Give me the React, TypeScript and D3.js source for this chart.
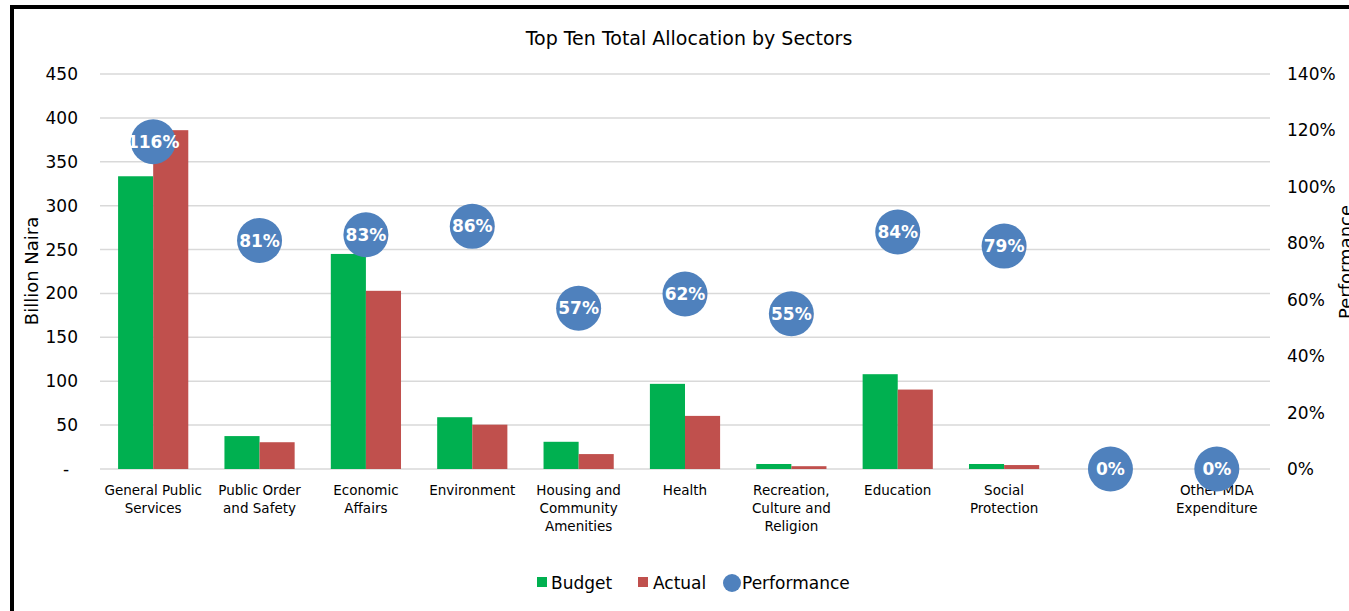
import React from "react";
import * as d3 from "d3";

const categories = [
  "General Public\nServices",
  "Public Order\nand Safety",
  "Economic\nAffairs",
  "Environment",
  "Housing and\nCommunity\nAmenities",
  "Health",
  "Recreation,\nCulture and\nReligion",
  "Education",
  "Social\nProtection",
  "",
  "Other MDA\nExpenditure",
];
const budget = [333.5, 37.5, 245, 59, 31, 97, 5.7, 108, 5.7, 0, 0];
const actual = [386, 30.5, 203, 50.5, 17, 60.5, 3.2, 90.5, 4.5, 0, 0];
const performance = [116, 81, 83, 86, 57, 62, 55, 84, 79, 0, 0];
const leftTicks = [0, 50, 100, 150, 200, 250, 300, 350, 400, 450];
const rightTicks = [0, 20, 40, 60, 80, 100, 120, 140];

const W = 1349;
const H = 611;
const FONT = "'DejaVu Sans', Verdana, sans-serif";

export default function App() {
  const plotL = 100, plotR = 1270, plotT = 74, plotB = 469;
  const x = d3.scaleBand<number>().domain(d3.range(categories.length)).range([plotL, plotR]).paddingInner(0).paddingOuter(0);
  const y = d3.scaleLinear().domain([0, 450]).range([plotB, plotT]);
  const yR = d3.scaleLinear().domain([0, 140]).range([plotB, plotT]);
  const bw = x.bandwidth();
  const barW = bw * 0.33;

  return (
    <svg width={W} height={H} style={{ position: "absolute", left: 0, top: 0, background: "#fff" }} fontFamily={FONT}>
      <rect x={0} y={0} width={W} height={H} fill="#fff" />
      <rect x={12} y={7} width={W + 20} height={H + 20} fill="none" stroke="#000" strokeWidth={4} />
      <text x={689} y={45} textAnchor="middle" fontSize={19} fill="#000">Top Ten Total Allocation by Sectors</text>

      {leftTicks.map((t) => (
        <g key={"g" + t}>
          <line x1={plotL} x2={plotR} y1={y(t)} y2={y(t)} stroke="#d9d9d9" strokeWidth={1.5} />
          <text x={t === 0 ? 66 : 78} y={y(t)} dy="0.35em" textAnchor={t === 0 ? "middle" : "end"} fontSize={17} fill="#000">
            {t === 0 ? "-" : t}
          </text>
        </g>
      ))}
      {rightTicks.map((t) => (
        <text key={"r" + t} x={1287} y={yR(t)} dy="0.35em" textAnchor="start" fontSize={17} fill="#000">{t + "%"}</text>
      ))}

      <text transform={`translate(38,${271}) rotate(-90)`} textAnchor="middle" fontSize={18} fill="#000">Billion Naira</text>
      <text transform={`translate(1352,${262}) rotate(-90)`} textAnchor="middle" fontSize={18} fill="#000">Performance</text>

      {categories.map((c, i) => {
        const cx = (x(i) as number) + bw / 2;
        return (
          <g key={"c" + i}>
            {budget[i] > 0 && (
              <rect x={cx - barW} y={y(budget[i])} width={barW} height={plotB - y(budget[i])} fill="#00B050" />
            )}
            {actual[i] > 0 && (
              <rect x={cx} y={y(actual[i])} width={barW} height={plotB - y(actual[i])} fill="#C0504D" />
            )}
            {c.split("\n").map((line, k) => (
              <text key={k} x={cx} y={495 + k * 18} textAnchor="middle" fontSize={13.5} fill="#000">{line}</text>
            ))}
          </g>
        );
      })}

      {categories.map((c, i) => {
        const cx = (x(i) as number) + bw / 2;
        const cy = yR(performance[i]);
        return (
          <g key={"p" + i}>
            <circle cx={cx} cy={cy} r={22.5} fill="#4F81BD" />
            <text x={cx} y={cy} dy="0.36em" textAnchor="middle" fontSize={17} fontWeight="bold" fill="#fff">{performance[i] + "%"}</text>
          </g>
        );
      })}

      <g fontSize={17} fill="#000">
        <rect x={537} y={577} width={10} height={10} fill="#00B050" />
        <text x={551} y={583} dy="0.35em">Budget</text>
        <rect x={638} y={577} width={10} height={10} fill="#C0504D" />
        <text x={653} y={583} dy="0.35em">Actual</text>
        <circle cx={732} cy={583} r={9} fill="#4F81BD" />
        <text x={742} y={583} dy="0.35em">Performance</text>
      </g>
    </svg>
  );
}
